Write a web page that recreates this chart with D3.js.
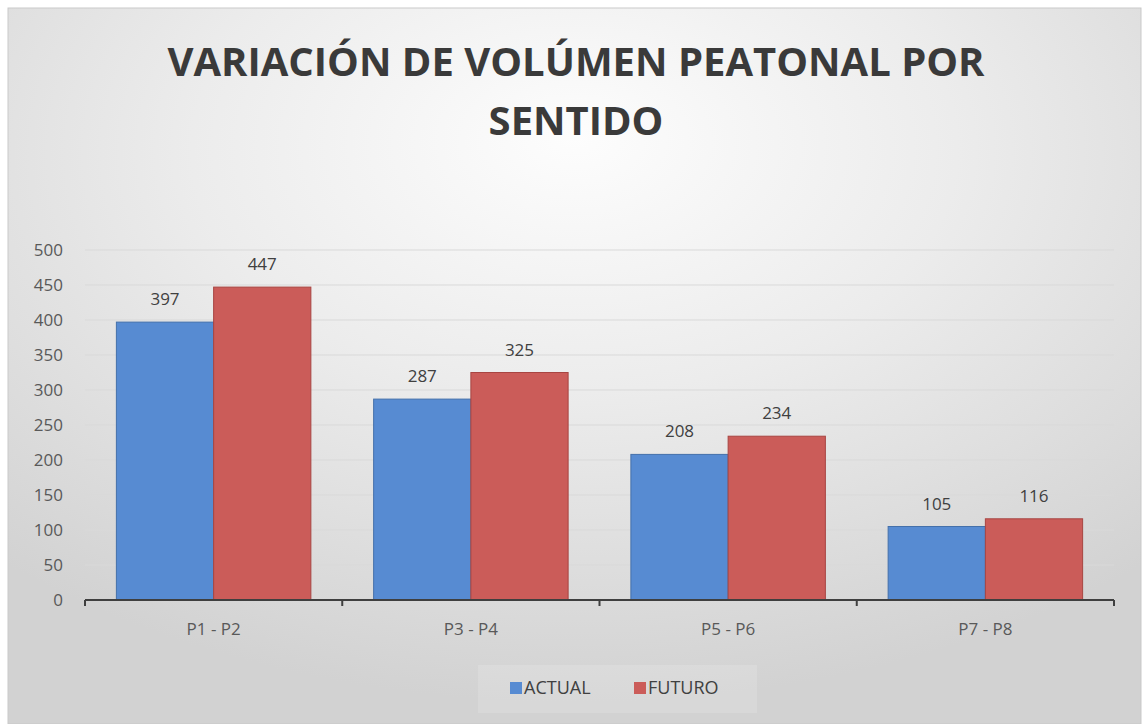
<!DOCTYPE html>
<html>
<head>
<meta charset="utf-8">
<script src="https://cdn.jsdelivr.net/npm/d3@7/dist/d3.min.js"></script>
<style>
  html, body { margin: 0; padding: 0; background: #ffffff; }
  svg { display: block; }
  text { font-family: "Open Sans", "DejaVu Sans", sans-serif; }
</style>
</head>
<body>
<svg id="chart" width="1143" height="724"></svg>
<script>
// Pedestrian volume per crossing pair, current vs. projected
const categories = ["P1 - P2", "P3 - P4", "P5 - P6", "P7 - P8"];
const actualValues = [397, 287, 208, 105];
const futureValues = [447, 325, 234, 116];
const seriesNames = ["ACTUAL", "FUTURO"];
const yTicks = [0, 50, 100, 150, 200, 250, 300, 350, 400, 450, 500];
const titleLines = ["VARIACIÓN DE VOLÚMEN PEATONAL POR", "SENTIDO"];

const W = 1143, H = 724;
const plot = { left: 85, right: 1114, top: 250, bottom: 600 };
const colors = { ACTUAL: "#578bd2", FUTURO: "#cb5c59" };
const strokes = { ACTUAL: "#4470aa", FUTURO: "#a84542" };

const svg = d3.select("#chart");
const defs = svg.append("defs");

// soft grey background, lighter towards the title
const grad = defs.append("radialGradient")
  .attr("id", "bg").attr("cx", "50%").attr("cy", "22%").attr("r", "75%")
  .attr("fx", "50%").attr("fy", "18%");
grad.append("stop").attr("offset", "0%").attr("stop-color", "#fdfdfd");
grad.append("stop").attr("offset", "45%").attr("stop-color", "#ececec");
grad.append("stop").attr("offset", "100%").attr("stop-color", "#d2d2d2");

svg.append("rect").attr("width", W).attr("height", H).attr("fill", "#ffffff");
svg.append("rect")
  .attr("x", 8).attr("y", 8).attr("width", W - 10).attr("height", H - 8)
  .attr("fill", "url(#bg)").attr("stroke", "#c9c9c9").attr("stroke-width", 1);

// title
const titleSel = svg.append("g").selectAll("text").data(titleLines).join("text")
  .attr("x", 576).attr("y", (d, i) => 76 + i * 59)
  .attr("text-anchor", "middle")
  .attr("font-size", 40).attr("font-weight", 700)
  .attr("fill", "#3a3a3a")
  .text(d => d);
const titleWidths = [815, 174];
titleSel.each(function (d, i) {
  const w = this.getComputedTextLength();
  if (Math.abs(w - titleWidths[i]) > 4) {
    d3.select(this).attr("textLength", titleWidths[i]).attr("lengthAdjust", "spacingAndGlyphs");
  }
});

// scales
const x0 = d3.scaleBand().domain(categories).range([plot.left, plot.right]).paddingInner(0).paddingOuter(0);
const groupW = x0.bandwidth() * 0.756;
const x1 = d3.scaleBand().domain(seriesNames).range([0, groupW]).padding(0);
const y = d3.scaleLinear().domain([0, 500]).range([plot.bottom, plot.top]);

// gridlines
svg.append("g").selectAll("line").data(yTicks.filter(t => t > 0)).join("line")
  .attr("x1", plot.left).attr("x2", plot.right)
  .attr("y1", d => y(d)).attr("y2", d => y(d))
  .attr("stroke", "#d9d9d9").attr("stroke-width", 1);

// y axis labels (no axis line)
const yAxis = d3.axisLeft(y).tickValues(yTicks).tickSize(0).tickPadding(0);
const yg = svg.append("g").attr("transform", `translate(63,0)`).call(yAxis);
yg.select(".domain").remove();
yg.selectAll("text")
  .attr("font-family", "'Open Sans', sans-serif")
  .attr("font-size", 17).attr("fill", "#595959");

// bars
const rows = categories.map((c, i) => ({ cat: c, values: [
  { key: "ACTUAL", value: actualValues[i] },
  { key: "FUTURO", value: futureValues[i] }
]}));

const groups = svg.append("g").selectAll("g").data(rows).join("g")
  .attr("transform", d => `translate(${x0(d.cat) + (x0.bandwidth() - groupW) / 2},0)`);

groups.selectAll("rect").data(d => d.values).join("rect")
  .attr("x", d => x1(d.key))
  .attr("y", d => y(d.value))
  .attr("width", x1.bandwidth())
  .attr("height", d => y(0) - y(d.value))
  .attr("fill", d => colors[d.key])
  .attr("stroke", d => strokes[d.key]).attr("stroke-width", 1);

groups.selectAll("text").data(d => d.values).join("text")
  .attr("x", d => x1(d.key) + x1.bandwidth() / 2)
  .attr("y", d => y(d.value) - 17)
  .attr("text-anchor", "middle")
  .attr("font-size", 17).attr("fill", "#404040")
  .text(d => d.value);

// x axis with tick marks between categories
const xg = svg.append("g").attr("transform", `translate(0,${plot.bottom})`);
xg.append("line").attr("x1", plot.left).attr("x2", plot.right)
  .attr("stroke", "#3f3f3f").attr("stroke-width", 2);
const boundaries = categories.map(c => x0(c)).concat([plot.right]);
xg.selectAll(".tk").data(boundaries).join("line").attr("class", "tk")
  .attr("x1", d => d).attr("x2", d => d).attr("y1", 0).attr("y2", 6)
  .attr("stroke", "#3f3f3f").attr("stroke-width", 2);
xg.selectAll(".lbl").data(categories).join("text").attr("class", "lbl")
  .attr("x", d => x0(d) + x0.bandwidth() / 2).attr("y", 35)
  .attr("text-anchor", "middle")
  .attr("font-size", 17).attr("fill", "#595959")
  .text(d => d);

// legend
const lg = svg.append("g");
lg.append("rect").attr("x", 478).attr("y", 665).attr("width", 279).attr("height", 48)
  .attr("fill", "#ffffff").attr("fill-opacity", 0.15);
const legendItems = [
  { key: "ACTUAL", x: 510 },
  { key: "FUTURO", x: 634 }
];
const li = lg.selectAll("g").data(legendItems).join("g")
  .attr("transform", d => `translate(${d.x},682)`);
li.append("rect").attr("width", 12).attr("height", 12).attr("fill", d => colors[d.key]);
li.append("text").attr("x", 14).attr("y", 12)
  .attr("font-size", 18).attr("fill", "#404040")
  .text(d => d.key);
</script>
</body>
</html>
